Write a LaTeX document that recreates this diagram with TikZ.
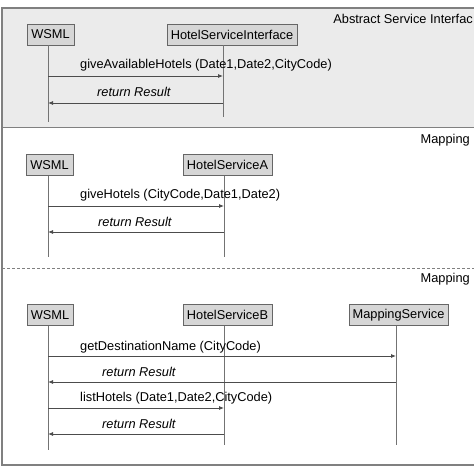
\documentclass[tikz,border=0pt]{standalone}
\usepackage{fontspec}
\setmainfont{Liberation Sans}
\usetikzlibrary{arrows.meta}
\newcommand{\dfont}{\fontsize{12.8}{15}\selectfont}
\begin{document}
\begin{tikzpicture}[x=1pt,y=-1pt,
  obj/.style={draw=black!60, fill=black!16, inner sep=0pt, minimum height=21pt, line width=0.8pt, font=\dfont},
  life/.style={draw=black!55, line width=0.8pt},
  msg/.style={draw=black!70, line width=0.8pt, -{Latex[length=5pt,width=4pt]}},
  lbl/.style={font=\dfont, anchor=west, inner sep=0pt},
  rlbl/.style={font=\dfont\itshape, anchor=west, inner sep=0pt},
  ttl/.style={font=\dfont, inner sep=0pt},
  frame/.style={draw=black!50, line width=1.2pt},
]
\useasboundingbox (0,0) rectangle (474,474);
\clip (0,0) rectangle (474,474);
\fill[white] (0,0) rectangle (474,474);
% top section background
\fill[black!8] (2,8) rectangle (480,127);
% frame
\draw[frame] (480,8) -- (2,8) -- (2,465) -- (480,465);
\draw[frame, line width=1pt] (2,127) -- (480,127);
\draw[draw=black!50, line width=0.8pt, dashed, dash pattern=on 3pt off 2pt] (2,268) -- (480,268);
% section titles
\node[ttl, anchor=east] (t1) at (473,19) {Abstract Service Interfac};
\node[ttl, anchor=east] (t2) at (470,140) {Mapping};
\node[ttl, anchor=east] (t3) at (470,279) {Mapping};

% ---------- section 1
\node[obj, minimum width=47pt] (w1) at (50.5,34.5) {WSML};
\node[obj, minimum width=130pt] (hsi) at (232,34.5) {HotelServiceInterface};
\coordinate (w1e) at (48,122);
\coordinate (hsie) at (223,117);
\draw[life] (w1.south -| w1e) -- (w1e);
\draw[life] (hsi.south -| hsie) -- (hsie);
\coordinate (a1s) at (48,76); \coordinate (a1e) at (223,76);
\coordinate (a2s) at (223,103); \coordinate (a2e) at (48,103);
\draw[msg] (a1s) -- (a1e);
\draw[msg] (a2s) -- (a2e);
\node[lbl] (l1) at (80,65) {giveAvailableHotels (Date1,Date2,CityCode)};
\node[rlbl] (l2) at (97,92) {return Result};

% ---------- section 2
\node[obj, minimum width=47pt] (w2) at (49.5,165) {WSML};
\node[obj, minimum width=89pt] (hsa) at (227.5,165) {HotelServiceA};
\coordinate (w2e) at (48,257);
\coordinate (hsae) at (224,257);
\draw[life] (w2.south -| w2e) -- (w2e);
\draw[life] (hsa.south -| hsae) -- (hsae);
\coordinate (b1s) at (48,206); \coordinate (b1e) at (224,206);
\coordinate (b2s) at (224,232); \coordinate (b2e) at (48,232);
\draw[msg] (b1s) -- (b1e);
\draw[msg] (b2s) -- (b2e);
\node[lbl] (l3) at (80,195) {giveHotels (CityCode,Date1,Date2)};
\node[rlbl] (l4) at (98,222) {return Result};

% ---------- section 3
\node[obj, minimum width=46pt] (w3) at (50,315) {WSML};
\node[obj, minimum width=89pt] (hsb) at (227.5,315) {HotelServiceB};
\node[obj, minimum width=99pt] (ms) at (398.5,315) {MappingService};
\coordinate (w3e) at (48,450);
\coordinate (hsbe) at (224,445);
\coordinate (mse) at (396,445);
\draw[life] (w3.south -| w3e) -- (w3e);
\draw[life] (hsb.south -| hsbe) -- (hsbe);
\draw[life] (ms.south -| mse) -- (mse);
\coordinate (c1s) at (48,356); \coordinate (c1e) at (396,356);
\coordinate (c2s) at (396,382); \coordinate (c2e) at (48,382);
\coordinate (c3s) at (48,408); \coordinate (c3e) at (224,408);
\coordinate (c4s) at (224,434); \coordinate (c4e) at (48,434);
\draw[msg] (c1s) -- (c1e);
\draw[msg] (c2s) -- (c2e);
\draw[msg] (c3s) -- (c3e);
\draw[msg] (c4s) -- (c4e);
\node[lbl] (l5) at (80,347) {getDestinationName (CityCode)};
\node[rlbl] (l6) at (102,372) {return Result};
\node[lbl] (l7) at (80,398) {listHotels (Date1,Date2,CityCode)};
\node[rlbl] (l8) at (102,424) {return Result};
\end{tikzpicture}
\end{document}
